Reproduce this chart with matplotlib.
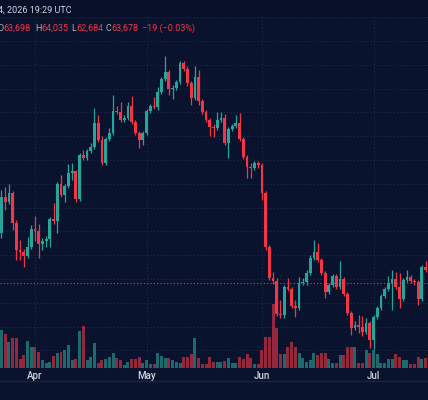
import matplotlib
matplotlib.use("Agg")
import matplotlib.pyplot as plt
import matplotlib.dates as mdates
import matplotlib.transforms as mtransforms
from matplotlib.ticker import MultipleLocator
import numpy as np
import pandas as pd

# daily candles, 23 Mar 2026 -> 15 Jul 2026
start_day = "2026-03-23"

opens = [67860, 70890, 70470, 71220, 68700, 66440, 66270, 65930, 66690, 68200,
         68030, 66940, 67190, 67360, 69040, 68870, 71980, 71060, 71810, 72900,
         73070, 70720, 74420, 74160, 74750, 75090, 77100, 75680, 73740, 75760,
         76260, 78110, 78030, 77360, 77520, 78530, 77190, 76260, 75680, 76260,
         78110, 78530, 78450, 79710, 80800, 81390, 79960, 80040, 80550, 82140,
         81640, 80460, 79200, 80970, 78950, 78030, 77360, 76770, 76680, 77360,
         77520, 75420, 76600, 76850, 77100, 75760, 74250, 73410, 73320, 73740,
         73580, 71220, 66690, 64080, 63830, 61060, 60980, 63330, 63160, 61730,
         61560, 63660, 63750, 64500, 65760, 66270, 65600, 64500, 62910, 63500,
         64250, 63330, 64000, 62740, 61140, 59880, 60140, 59970, 59550, 60300,
         58880, 60810, 61560, 62570, 63160, 63660, 64000, 63330, 62320, 63920,
         64170, 63830, 63750, 62320, 65010]

highs = [71480, 71730, 71980, 71390, 68960, 67280, 66520, 67530, 68540, 69290,
         68620, 67440, 67610, 69210, 70380, 72150, 72740, 71980, 73660, 73740,
         73160, 74580, 74840, 74920, 75420, 78360, 77780, 76010, 75930, 76680,
         79460, 78530, 78870, 77780, 78870, 79370, 77360, 76430, 76430, 78280,
         78700, 79290, 80130, 80970, 82730, 81560, 80300, 80720, 82310, 82310,
         81890, 80630, 81890, 81560, 79120, 78200, 77520, 77020, 78030, 78030,
         77860, 76770, 77020, 77780, 77940, 75930, 74420, 73740, 73910, 73910,
         73740, 71390, 66860, 64590, 64080, 62240, 63500, 64080, 63330, 62240,
         64170, 64080, 64760, 66020, 67280, 67020, 65760, 64670, 63660, 64420,
         64420, 65510, 64170, 62910, 61310, 60470, 60980, 60890, 60720, 60470,
         60980, 61730, 62740, 63330, 64250, 64760, 64590, 64500, 64080, 64760,
         64340, 64000, 63920, 65180, 65510]

lows = [67440, 69800, 70300, 68120, 65600, 65600, 65010, 65760, 66520, 67190,
        65760, 66440, 66690, 66690, 68620, 67860, 70890, 70470, 71640, 72320,
        70470, 70550, 74000, 74000, 74580, 74920, 75510, 73580, 73580, 75590,
        76100, 77860, 77190, 77190, 77360, 77020, 76100, 75000, 75260, 76100,
        77940, 78280, 78200, 79540, 80630, 79460, 79120, 79880, 80380, 81470,
        80210, 78620, 79040, 78620, 77860, 77190, 76010, 75930, 76520, 77190,
        75260, 74160, 76430, 76680, 75590, 74080, 72480, 72480, 73160, 73320,
        70640, 66440, 63920, 63580, 60890, 60720, 60720, 62990, 61560, 60810,
        61400, 63500, 63500, 64340, 65600, 65430, 64340, 62400, 62740, 63330,
        63160, 63160, 62570, 60980, 59300, 59720, 59460, 59210, 59380, 58200,
        58120, 60640, 61400, 62400, 62990, 61400, 63160, 61560, 62150, 63750,
        63660, 63500, 61820, 62150, 64590]

closes = [70890, 70470, 71220, 68700, 66440, 66270, 65930, 66690, 68200, 68030,
          66940, 67190, 67360, 69040, 68870, 71980, 71060, 71810, 72900, 73070,
          70720, 74420, 74160, 74750, 75090, 77100, 75680, 73740, 75760, 76260,
          78110, 78030, 77360, 77520, 78530, 77190, 76260, 75680, 76260, 78110,
          78530, 78450, 79710, 80800, 81390, 79960, 80040, 80550, 82140, 81640,
          80460, 79200, 80970, 78950, 78030, 77360, 76770, 76680, 77360, 77520,
          75420, 76600, 76850, 77100, 75760, 74250, 73410, 73320, 73740, 73580,
          71220, 66690, 64080, 63830, 61060, 60980, 63330, 63160, 61730, 61560,
          63660, 63750, 64500, 65760, 66270, 65600, 64500, 62910, 63500, 64250,
          63330, 64000, 62740, 61140, 59880, 60140, 59970, 59550, 60300, 58880,
          60810, 61560, 62570, 63160, 63660, 64000, 63330, 62320, 63920, 64170,
          63830, 63750, 62320, 65010, 64760]

# volume in thousands
volume = [38, 34, 26, 30, 30, 9, 13, 27, 21, 21,
          16, 8, 5, 6, 12, 15, 16, 18, 23, 8,
          9, 37, 42, 8, 11, 25, 5, 8, 9, 11,
          15, 10, 8, 3, 6, 9, 9, 11, 5, 8,
          4, 4, 15, 12, 10, 10, 8, 6, 5, 11,
          11, 14, 30, 10, 4, 4, 11, 6, 6, 6,
          7, 10, 5, 5, 11, 9, 14, 10, 4, 4,
          18, 31, 31, 64, 40, 14, 14, 21, 26, 21,
          15, 10, 6, 8, 15, 13, 15, 15, 9, 5,
          5, 13, 13, 21, 21, 21, 5, 5, 18, 15,
          18, 14, 5, 5, 9, 9, 14, 11, 8, 8,
          4, 4, 11, 9, 10]

last_price = 63678
legend_vals = ["63,698", "64,035", "62,684", "63,678"]
legend_keys = ["O", "H", "L", "C"]
legend_change = "\u221219 (\u22120.03%)"
header_time = "4, 2026 19:29 UTC"
month_ticks = ["2026-04-01", "2026-05-01", "2026-06-01", "2026-07-01"]
month_labels = ["Apr", "May", "Jun", "Jul"]

BG = "#0a132e"
BAND = "#071028"
UP = "#26a69a"
DOWN = "#f23645"
GRID = "#1e2a4a"
TXT = "#d1d4dc"

plt.rcParams["font.family"] = ["Roboto", "DejaVu Sans"]

W, H = 428, 400
fig = plt.figure(figsize=(W / 100, H / 100), dpi=100)
fig.patch.set_facecolor(BG)

# top status band
fig.add_artist(plt.Rectangle((0, 1 - 17 / H), 1, 17 / H, transform=fig.transFigure,
                             facecolor=BAND, edgecolor="none", zorder=0))
# bottom separator under time axis
fig.add_artist(plt.Line2D([0, 1], [1 - 380.5 / H] * 2, transform=fig.transFigure,
                          color="#1a2440", lw=1))

ax = fig.add_axes([0, 1 - 368 / H, 1, (368 - 17) / H])
ax.set_facecolor(BG)

dates = mdates.date2num(pd.date_range(start_day, periods=len(closes), freq="D").to_pydatetime())
o = np.array(opens, float)
h = np.array(highs, float)
l = np.array(lows, float)
c = np.array(closes, float)
up = c >= o
cols = np.where(up, UP, DOWN)

# volume in lower part of the pane
vtrans = mtransforms.blended_transform_factory(ax.transData, ax.transAxes)
vtop = max(volume) * 5.5
ax.bar(dates, np.array(volume) / vtop, width=0.8, bottom=0, color=cols,
       alpha=0.6, transform=vtrans, zorder=1, linewidth=0)

# candles
ax.vlines(dates, l, h, colors=cols, linewidth=0.9, zorder=2)
body_lo = np.minimum(o, c)
body_h = np.maximum(np.abs(c - o), 90)
ax.bar(dates, body_h, width=0.75, bottom=body_lo, color=cols, linewidth=0, zorder=3)

ax.axhline(last_price, color=DOWN, lw=0.8, ls=(0, (1, 2)), zorder=4)

ax.set_xlim(dates[0] - 0.40, dates[0] + 114.65)
ax.set_ylim(56524, 86008)

ax.yaxis.set_major_locator(MultipleLocator(2000))
ax.set_xticks(mdates.date2num(pd.to_datetime(month_ticks).to_pydatetime()))
ax.set_xticklabels(month_labels, fontweight="medium")
ax.tick_params(axis="x", length=0, pad=2.5, labelsize=7, labelcolor=TXT)
ax.tick_params(axis="y", length=0, labelleft=False)
ax.set_axisbelow(True)
ax.grid(True, color=GRID, lw=0.8, ls=(0, (1, 2)))
for s in ax.spines.values():
    s.set_visible(False)

# header texts
def px(x, y):
    return x / W, 1 - y / H

fs = 6.5
fig.text(*px(-2.5, 12.7), header_time, color=TXT, fontsize=fs, va="baseline")
key_x = [-3, 35.3, 71.5, 105.5]
val_x = [3.3, 41.2, 76.3, 111.2]
for k, kx, v, vx in zip(legend_keys, key_x, legend_vals, val_x):
    fig.text(*px(kx, 31), k, color="#b2b5be", fontsize=fs, va="baseline")
    fig.text(*px(vx, 31), v, color=DOWN, fontsize=fs, va="baseline")
fig.text(*px(142, 31), legend_change, color=DOWN, fontsize=fs, va="baseline")

fig.savefig("out.png", dpi=100, facecolor=fig.get_facecolor())
